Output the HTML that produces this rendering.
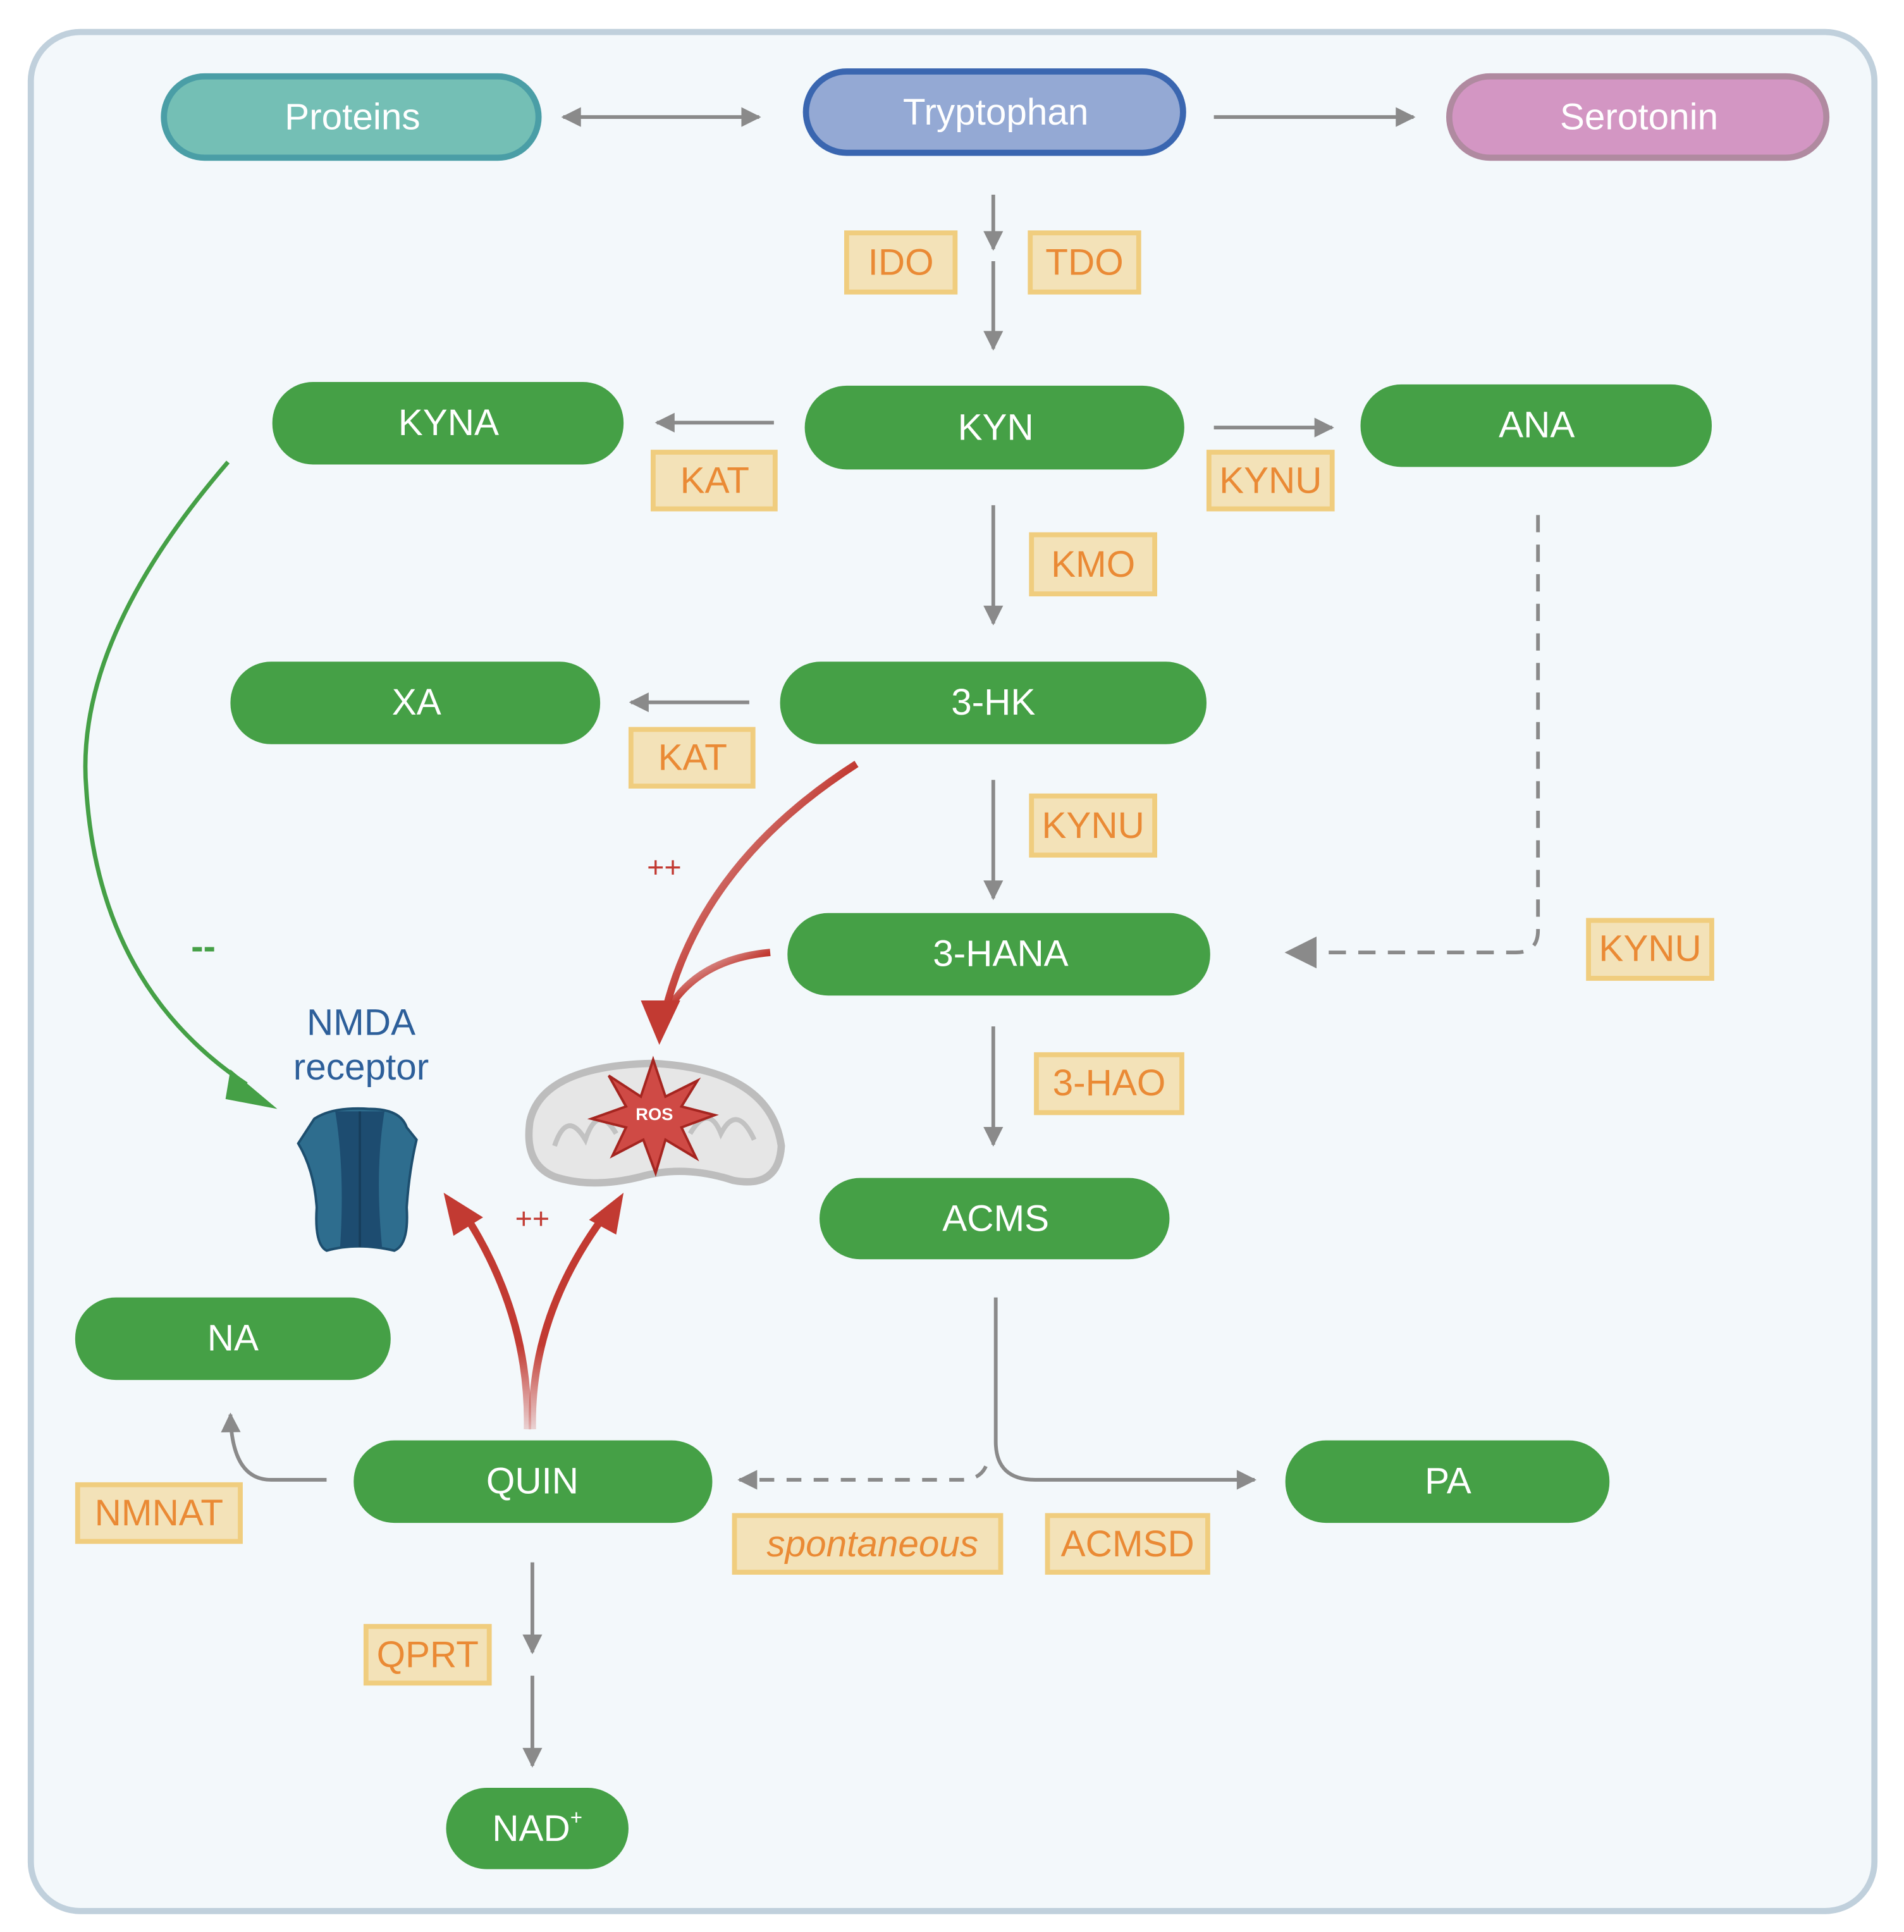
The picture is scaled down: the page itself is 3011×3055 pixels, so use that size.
<!DOCTYPE html>
<html><head><meta charset="utf-8"><style>
html,body{margin:0;padding:0;background:#fff;}
svg{display:block;}
text{font-family:"Liberation Sans",sans-serif;}
.n{fill:#fff;font-size:30px;text-anchor:middle;dominant-baseline:central;}
.e{fill:#ea8a35;font-size:30px;text-anchor:middle;dominant-baseline:central;}
.eb{fill:#f3e2b8;stroke:#f0cd7e;stroke-width:4;}
.g{fill:#45a046;}
.ar{stroke:#8a8a8a;stroke-width:3;fill:none;}
</style></head><body>
<svg width="3011" height="3055" viewBox="0 0 1545 1568" preserveAspectRatio="none" xmlns="http://www.w3.org/2000/svg">
<defs>
<marker id="a" viewBox="0 0 10 10" refX="9" refY="5" markerWidth="18" markerHeight="16" orient="auto-start-reverse" markerUnits="userSpaceOnUse"><path d="M0 0L10 5L0 10z" fill="#8a8a8a"/></marker>
<marker id="a2" viewBox="0 0 10 10" refX="9" refY="5" markerWidth="26" markerHeight="30" orient="auto" markerUnits="userSpaceOnUse"><path d="M0 0L10 5L0 10z" fill="#8a8a8a"/></marker>
<linearGradient id="rg" x1="0" y1="0" x2="1" y2="1"><stop offset="0" stop-color="#c23a32" stop-opacity="0"/><stop offset="0.5" stop-color="#c23a32"/></linearGradient>
<linearGradient id="rg2" x1="0" y1="1" x2="0" y2="0"><stop offset="0" stop-color="#c23a32" stop-opacity="0.2"/><stop offset="0.4" stop-color="#c23a32"/></linearGradient>
</defs>
<rect x="0" y="0" width="1545" height="1568" fill="#fff"/>
<rect x="25" y="26" width="1496" height="1525" rx="40" fill="#f3f8fb" stroke="#c0d0dc" stroke-width="5"/>

<rect x="133" y="62" width="304" height="66" rx="33" fill="#74bfb5" stroke="#4a9ea6" stroke-width="5"/>
<text class="n" x="286" y="95">Proteins</text>
<rect x="654" y="58" width="306" height="66" rx="33" fill="#94a9d4" stroke="#3a66b0" stroke-width="5"/>
<text class="n" x="808" y="91">Tryptophan</text>
<rect x="1176" y="62" width="306" height="66" rx="33" fill="#d396c3" stroke="#b08aa0" stroke-width="5"/>
<text class="n" x="1330" y="95">Serotonin</text>

<line class="ar" x1="457" y1="95" x2="616" y2="95" marker-start="url(#a)" marker-end="url(#a)"/>
<line class="ar" x1="985" y1="95" x2="1147" y2="95" marker-end="url(#a)"/>
<line class="ar" x1="806" y1="158" x2="806" y2="202" marker-end="url(#a)"/>
<line class="ar" x1="806" y1="212" x2="806" y2="283" marker-end="url(#a)"/>
<rect class="eb" x="687" y="189" width="88" height="48"/><text class="e" x="731" y="213">IDO</text>
<rect class="eb" x="836" y="189" width="88" height="48"/><text class="e" x="880" y="213">TDO</text>

<rect class="g" x="221" y="310" width="285" height="67" rx="33"/><text class="n" x="364" y="343">KYNA</text>
<rect class="g" x="653" y="313" width="308" height="68" rx="34"/><text class="n" x="808" y="347">KYN</text>
<rect class="g" x="1104" y="312" width="285" height="67" rx="33"/><text class="n" x="1247" y="345">ANA</text>
<line class="ar" x1="628" y1="343" x2="533" y2="343" marker-end="url(#a)"/>
<rect class="eb" x="530" y="367" width="99" height="46"/><text class="e" x="580" y="390">KAT</text>
<line class="ar" x1="985" y1="347" x2="1081" y2="347" marker-end="url(#a)"/>
<rect class="eb" x="981" y="367" width="100" height="46"/><text class="e" x="1031" y="390">KYNU</text>

<line class="ar" x1="806" y1="410" x2="806" y2="506" marker-end="url(#a)"/>
<rect class="eb" x="837" y="434" width="100" height="48"/><text class="e" x="887" y="458">KMO</text>

<rect class="g" x="187" y="537" width="300" height="67" rx="33"/><text class="n" x="338" y="570">XA</text>
<rect class="g" x="633" y="537" width="346" height="67" rx="33"/><text class="n" x="806" y="570">3-HK</text>
<line class="ar" x1="608" y1="570" x2="512" y2="570" marker-end="url(#a)"/>
<rect class="eb" x="512" y="592" width="99" height="46"/><text class="e" x="562" y="615">KAT</text>

<line class="ar" x1="806" y1="633" x2="806" y2="729" marker-end="url(#a)"/>
<rect class="eb" x="837" y="646" width="100" height="48"/><text class="e" x="887" y="670">KYNU</text>

<rect class="g" x="639" y="741" width="343" height="67" rx="33"/><text class="n" x="812" y="774">3-HANA</text>
<path d="M1248 418 V755 Q1248 773 1230 773 H1045" stroke="#8a8a8a" stroke-width="3" fill="none" stroke-dasharray="14 10" marker-end="url(#a2)"/>
<rect class="eb" x="1289" y="747" width="100" height="47"/><text class="e" x="1339" y="770">KYNU</text>

<line class="ar" x1="806" y1="833" x2="806" y2="929" marker-end="url(#a)"/>
<rect class="eb" x="841" y="856" width="118" height="47"/><text class="e" x="900" y="879">3-HAO</text>

<rect class="g" x="665" y="956" width="284" height="66" rx="33"/><text class="n" x="808" y="989">ACMS</text>

<path d="M808 1053 V1170 Q808 1201 840 1201 H1018" class="ar" marker-end="url(#a)"/>
<path d="M800 1190 Q795 1201 780 1201 H600" stroke="#8a8a8a" stroke-width="3" fill="none" stroke-dasharray="12 10" marker-end="url(#a)"/>
<rect class="g" x="1043" y="1169" width="263" height="67" rx="33"/><text class="n" x="1175" y="1202">PA</text>
<rect class="eb" x="596" y="1230" width="216" height="46"/><text class="e" x="708" y="1253" font-style="italic">spontaneous</text>
<rect class="eb" x="850" y="1230" width="130" height="46"/><text class="e" x="915" y="1253">ACMSD</text>

<rect class="g" x="287" y="1169" width="291" height="67" rx="33"/><text class="n" x="432" y="1202">QUIN</text>
<rect class="g" x="61" y="1053" width="256" height="67" rx="33"/><text class="n" x="189" y="1086">NA</text>
<path d="M265 1201 H220 Q188 1201 187 1148" class="ar" marker-end="url(#a)"/>
<rect class="eb" x="63" y="1205" width="132" height="46"/><text class="e" x="129" y="1228">NMNAT</text>

<line class="ar" x1="432" y1="1268" x2="432" y2="1341" marker-end="url(#a)"/>
<line class="ar" x1="432" y1="1360" x2="432" y2="1433" marker-end="url(#a)"/>
<rect class="eb" x="297" y="1320" width="100" height="46"/><text class="e" x="347" y="1343">QPRT</text>
<rect class="g" x="362" y="1451" width="148" height="66" rx="33"/><text class="n" x="436" y="1484">NAD<tspan font-size="17" dy="-9">+</tspan></text>

<path d="M185 375 Q60 520 70 640 Q80 800 200 880" stroke="#45a046" stroke-width="3.5" fill="none"/>
<path d="M187 868 L225 900 L183 892 Z" fill="#45a046"/>
<text x="165" y="778" font-size="30" fill="#45a046" text-anchor="middle" font-weight="bold">--</text>

<text x="293" y="830" font-size="30" fill="#2d5f9a" text-anchor="middle" dominant-baseline="central">NMDA</text>
<text x="293" y="866" font-size="30" fill="#2d5f9a" text-anchor="middle" dominant-baseline="central">receptor</text>
<path d="M255 908 Q270 898 300 900 Q325 900 330 915 L338 925 Q332 950 330 980 Q332 1010 320 1015 Q290 1008 265 1015 Q255 1010 257 980 Q255 950 242 928 Z" fill="#2e6d8e" stroke="#1d4e6e" stroke-width="2"/>
<path d="M272 902 Q280 950 276 1012 L310 1012 Q304 950 312 902 Z" fill="#1d4c70"/>
<line x1="292" y1="902" x2="292" y2="1012" stroke="#173e5c" stroke-width="2"/>

<path d="M430 910 Q440 865 530 863 Q625 868 634 930 Q632 965 595 958 Q555 945 520 955 Q480 965 450 955 Q425 945 430 910 Z" fill="#e6e6e6" stroke="#bdbdbd" stroke-width="6"/>
<path d="M450 930 Q460 900 475 925 Q485 895 500 920 M560 920 Q575 895 585 920 Q598 895 612 925" stroke="#c2c2c2" stroke-width="4" fill="none"/>
<polygon points="530,860 540,890 566,877 553,898 580,905 553,915 565,940 540,925 532,952 522,925 497,938 508,915 480,908 508,898 494,873 520,890" fill="#cf4a45" stroke="#a52520" stroke-width="2"/>
<text x="531" y="909" font-size="14" fill="#fff" text-anchor="middle" font-weight="bold">ROS</text>

<path d="M695 620 Q570 700 540 820" stroke="url(#rg)" stroke-width="6" fill="none"/>
<path d="M625 773 Q570 778 545 815" stroke="url(#rg)" stroke-width="6" fill="none"/>
<path d="M520 812 L535 848 L552 812 Z" fill="#c23a32"/>
<text x="539" y="712" font-size="24" fill="#c23a32" text-anchor="middle">++</text>
<path d="M428 1160 Q430 1070 380 990" stroke="url(#rg2)" stroke-width="6" fill="none"/>
<path d="M432 1160 Q430 1070 488 990" stroke="url(#rg2)" stroke-width="6" fill="none"/>
<path d="M360 968 L368 1003 L392 988 Z" fill="#c23a32"/>
<path d="M506 968 L478 990 L500 1002 Z" fill="#c23a32"/>
<text x="432" y="997" font-size="24" fill="#c23a32" text-anchor="middle">++</text>
</svg>
</body></html>
